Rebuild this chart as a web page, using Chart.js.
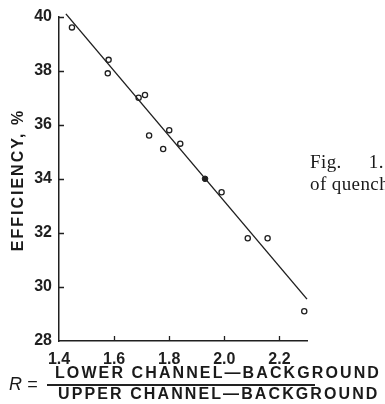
<!DOCTYPE html>
<html>
<head>
<meta charset="utf-8">
<script src="https://cdn.jsdelivr.net/npm/chart.js@4"></script>
<style>
  html, body { margin: 0; padding: 0; background: #fff; overflow: hidden; }
  #wrap { position: relative; width: 385px; height: 404px; overflow: hidden; }
  #c { position: absolute; left: 0; top: 0; }
  .txt { position: absolute; white-space: nowrap; color: #1a1a1a; }
  #ylab { font: bold 16px "Liberation Sans", Arial, sans-serif; letter-spacing: 2px;
          transform: translate(-50%, -50%) rotate(-90deg); left: 18px; top: 180px; }
  .fig { font: 19px "Liberation Serif", "DejaVu Serif", serif; line-height: 22px; letter-spacing: 0.4px; left: 310px; }
  #fig1 { top: 151px; word-spacing: 22px; }
  #fig2 { top: 173px; }
  .frac { font: bold 16px "Liberation Sans", Arial, sans-serif; letter-spacing: 2.1px; }
  #num { left: 55px; top: 364px; }
  #den { left: 58px; top: 385px; }
  #bar { position: absolute; left: 47px; top: 384px; width: 268px; height: 1.5px; background: #222; }
  #rlab { font: italic 18px "Liberation Sans", Arial, sans-serif; left: 9px; top: 374px; }
</style>
</head>
<body>
<div id="wrap">
  <canvas id="c" width="385" height="404"></canvas>
  <div class="txt" id="ylab">EFFICIENCY, %</div>
  <div class="txt fig" id="fig1">Fig. 1. Efficiency</div>
  <div class="txt fig" id="fig2">of quenching</div>
  <div class="txt" id="rlab">R =</div>
  <div id="bar"></div>
  <div class="txt frac" id="num">LOWER CHANNEL—BACKGROUND</div>
  <div class="txt frac" id="den">UPPER CHANNEL—BACKGROUND</div>
</div>
<script>
// 效率 vs R 比值
const rOpen = [1.447, 1.58, 1.577, 1.689, 1.712, 1.727, 1.778, 1.80, 1.84, 1.99, 2.085, 2.157, 2.29];
const effOpen = [39.6, 38.4, 37.9, 37.0, 37.1, 35.6, 35.1, 35.8, 35.3, 33.5, 31.8, 31.8, 29.1];
const rFilled = [1.93];
const effFilled = [34.0];
const fitR = [1.425, 2.30];
const fitEff = [40.1, 29.55];
const xTicks = [1.4, 1.6, 1.8, 2.0, 2.2];
const yTicks = [28, 30, 32, 34, 36, 38, 40];

const ink = '#1f1f1f';
const tickFont = { family: '"Liberation Sans", Arial, sans-serif', size: 16, weight: 'bold' };

// 向内的刻度线
const innerTicks = {
  id: 'innerTicks',
  afterDraw(chart) {
    const { ctx, scales: { x, y }, chartArea } = chart;
    ctx.save();
    ctx.strokeStyle = ink;
    ctx.lineWidth = 1.3;
    ctx.beginPath();
    xTicks.slice(1).forEach(v => {
      const px = Math.round(x.getPixelForValue(v)) + 0.5;
      ctx.moveTo(px, chartArea.bottom);
      ctx.lineTo(px, chartArea.bottom - 5);
    });
    yTicks.slice(1).forEach(v => {
      const py = Math.round(y.getPixelForValue(v)) + 0.5;
      ctx.moveTo(chartArea.left, py);
      ctx.lineTo(chartArea.left + 5, py);
    });
    ctx.stroke();
    ctx.restore();
  }
};

new Chart(document.getElementById('c'), {
  type: 'scatter',
  data: {
    datasets: [
      {
        type: 'line',
        data: fitR.map((r, i) => ({ x: r, y: fitEff[i] })),
        borderColor: ink,
        borderWidth: 1.4,
        pointRadius: 0,
        clip: false
      },
      {
        data: rOpen.map((r, i) => ({ x: r, y: effOpen[i] })),
        pointRadius: 2.6,
        pointBorderWidth: 1.3,
        pointBorderColor: ink,
        pointBackgroundColor: '#fff',
        clip: false
      },
      {
        data: rFilled.map((r, i) => ({ x: r, y: effFilled[i] })),
        pointRadius: 2.8,
        pointBorderWidth: 1,
        pointBorderColor: ink,
        pointBackgroundColor: ink,
        clip: false
      }
    ]
  },
  options: {
    responsive: false,
    animation: false,
    events: [],
    layout: { padding: { top: 16, right: 78, left: 0, bottom: 0 } },
    plugins: { legend: { display: false }, tooltip: { enabled: false } },
    scales: {
      x: {
        type: 'linear',
        min: 1.4,
        max: 2.3,
        afterFit: s => { s.height = 63; },
        afterBuildTicks: s => { s.ticks = xTicks.map(v => ({ value: v })); },
        grid: { display: false, drawTicks: false },
        border: { display: true, color: ink, width: 1.5 },
        ticks: {
          padding: 9,
          color: ink,
          font: tickFont,
          maxRotation: 0,
          callback: v => v.toFixed(1)
        }
      },
      y: {
        min: 28,
        max: 40,
        afterFit: s => { s.width = 59; },
        afterBuildTicks: s => { s.ticks = yTicks.map(v => ({ value: v })); },
        grid: { display: false, drawTicks: false },
        border: { display: true, color: ink, width: 1.5 },
        ticks: {
          padding: 7,
          color: ink,
          font: tickFont,
          callback: v => v
        }
      }
    }
  },
  plugins: [innerTicks]
});
</script>
</body>
</html>
